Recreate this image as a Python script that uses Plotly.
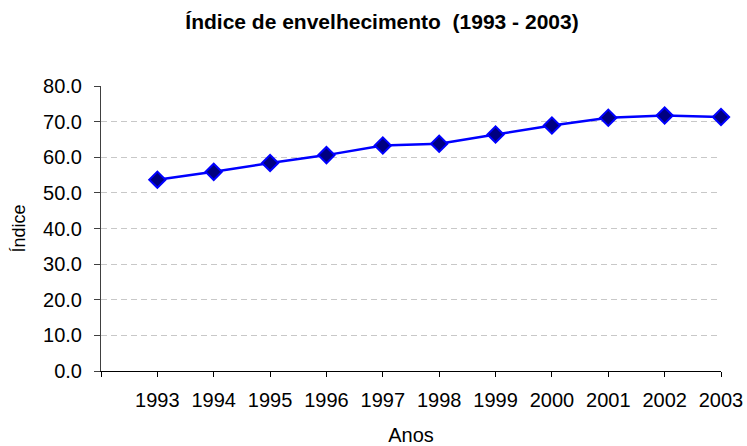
import plotly.graph_objects as go

anos = [1993, 1994, 1995, 1996, 1997, 1998, 1999, 2000, 2001, 2002, 2003]
indice = [53.7, 55.9, 58.4, 60.6, 63.3, 63.8, 66.4, 68.9, 71.1, 71.7, 71.3]
y_ticks = [0, 10, 20, 30, 40, 50, 60, 70, 80]
y_tick_labels = ["0.0", "10.0", "20.0", "30.0", "40.0", "50.0", "60.0", "70.0", "80.0"]

FONT = "Liberation Sans, Arial, sans-serif"

fig = go.Figure()
fig.add_trace(go.Scatter(
    x=anos, y=indice, mode="lines+markers",
    line=dict(color="#0000FF", width=2.5),
    marker=dict(symbol="diamond", size=12.5, color="#000080",
                line=dict(color="#0000FF", width=2)),
    showlegend=False, cliponaxis=False,
))

fig.update_layout(
    width=747, height=446,
    margin=dict(l=101, r=26, t=86, b=75),
    paper_bgcolor="white", plot_bgcolor="white",
    font=dict(family=FONT, color="black", size=20),
    title=dict(text="<b>Índice de envelhecimento  (1993 - 2003)</b>",
               x=382 / 747, xanchor="center", y=1 - 22 / 446, yanchor="middle",
               font=dict(family=FONT, size=21)),
    xaxis=dict(
        range=[1992, 2003], tickmode="array", automargin=False,
        tickvals=[1992] + anos, ticktext=[""] + [str(a) for a in anos],
        showgrid=False, zeroline=False, showline=True, linecolor="black", linewidth=1,
        ticks="outside", ticklen=5, tickcolor="black", ticklabelstandoff=6,
        title=dict(text="Anos", standoff=19, font=dict(size=20)),
        tickfont=dict(size=20),
    ),
    yaxis=dict(
        range=[0, 80], tickmode="array", tickvals=y_ticks, ticktext=y_tick_labels,
        automargin=False,
        showgrid=True, gridcolor="#C8C8C8", griddash="6px,4px", gridwidth=1,
        zeroline=False, showline=True, linecolor="#404040", linewidth=1,
        ticks="outside", ticklen=6, tickcolor="#404040", ticklabelstandoff=8,
        title=dict(text="Índice", standoff=12, font=dict(size=18)),
        tickfont=dict(size=20),
    ),
)

fig.write_html("out.html", config={"displayModeBar": False},
               post_script="document.body.style.margin='0';document.body.style.overflow='hidden';")
